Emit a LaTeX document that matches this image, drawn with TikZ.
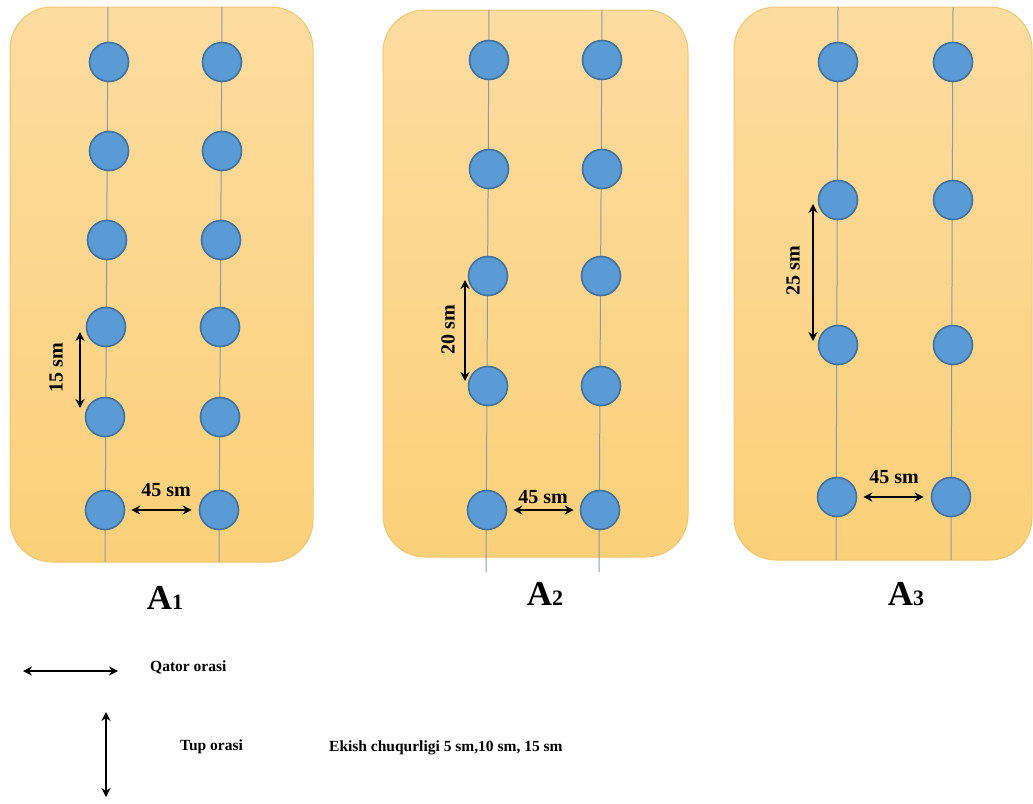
\documentclass[tikz,border=0pt]{standalone}
\usepackage{fontspec}
\setmainfont{Liberation Serif}
\usetikzlibrary{arrows.meta}
\definecolor{paneltop}{HTML}{FDDCA0}
\definecolor{panelbot}{HTML}{FBD079}
\definecolor{panelborder}{HTML}{F0C670}
\definecolor{plantfill}{HTML}{5B9BD5}
\definecolor{plantborder}{HTML}{41719C}
\definecolor{rowline}{HTML}{8A9BA6}
\tikzset{
  panel/.style={draw=panelborder, line width=1pt, rounded corners=42pt, top color=paneltop, bottom color=panelbot},
  plant/.style={circle, draw=plantborder, line width=1.6pt, fill=plantfill, minimum size=39pt, inner sep=0pt},
  rowln/.style={draw=rowline, line width=1pt},
  dim/.style={{Stealth[length=9pt,width=9pt]}-{Stealth[length=9pt,width=9pt]}, line width=2.8pt, black},
  dimlabel/.style={font=\fontsize{20}{22}\selectfont\bfseries, inner sep=0pt},
  legend/.style={font=\fontsize{15.5}{18}\selectfont\bfseries, inner sep=0pt, anchor=west},
  title/.style={font=\fontsize{35}{38}\selectfont\bfseries, inner sep=0pt, anchor=base},
}
\newcommand{\subdig}[1]{{\fontsize{22}{24}\selectfont #1}}
\begin{document}
\begin{tikzpicture}[x=1pt,y=-1pt]
\useasboundingbox (0,0) rectangle (1033,803);
% panels
\path[panel] (10,7) rectangle (313,562);
\path[panel] (383,10) rectangle (688,557);
\path[panel] (734,7) rectangle (1032,560);
% row lines
\coordinate (l1at) at (108,7);   \coordinate (l1ab) at (105,562);
\coordinate (l1bt) at (222,7);   \coordinate (l1bb) at (219,562);
\coordinate (l2at) at (489,10);  \coordinate (l2ab) at (486,572);
\coordinate (l2bt) at (602,10);  \coordinate (l2bb) at (599,572);
\coordinate (l3at) at (838,7);   \coordinate (l3ab) at (836,560);
\coordinate (l3bt) at (953,7);   \coordinate (l3bb) at (951,560);
\draw[rowln] (l1at) -- (l1ab);
\draw[rowln] (l1bt) -- (l1bb);
\draw[rowln] (l2at) -- (l2ab);
\draw[rowln] (l2bt) -- (l2bb);
\draw[rowln] (l3at) -- (l3ab);
\draw[rowln] (l3bt) -- (l3bb);
% plants panel 1
\node[plant] (p1a1) at (109,62) {};
\node[plant] (p1a2) at (109,151) {};
\node[plant] (p1a3) at (107,240) {};
\node[plant] (p1a4) at (106,327) {};
\node[plant] (p1a5) at (105,417) {};
\node[plant] (p1a6) at (105,510) {};
\node[plant] (p1b1) at (222,62) {};
\node[plant] (p1b2) at (222,151) {};
\node[plant] (p1b3) at (221,240) {};
\node[plant] (p1b4) at (220,327) {};
\node[plant] (p1b5) at (220,417) {};
\node[plant] (p1b6) at (219,510) {};
% plants panel 2
\node[plant] (p2a1) at (489,60) {};
\node[plant] (p2a2) at (489,169) {};
\node[plant] (p2a3) at (488,276) {};
\node[plant] (p2a4) at (488,386) {};
\node[plant] (p2a5) at (487,510) {};
\node[plant] (p2b1) at (602,60) {};
\node[plant] (p2b2) at (602,169) {};
\node[plant] (p2b3) at (601,276) {};
\node[plant] (p2b4) at (601,386) {};
\node[plant] (p2b5) at (600,510) {};
% plants panel 3
\node[plant] (p3a1) at (838,62) {};
\node[plant] (p3a2) at (838,200) {};
\node[plant] (p3a3) at (838,345) {};
\node[plant] (p3a4) at (837,497) {};
\node[plant] (p3b1) at (953,62) {};
\node[plant] (p3b2) at (953,200) {};
\node[plant] (p3b3) at (953,345) {};
\node[plant] (p3b4) at (951,497) {};
% dimension arrows panel 1
\coordinate (v1t) at (80,332); \coordinate (v1b) at (80,408);
\draw[dim] (v1t) -- (v1b);
\node[dimlabel, rotate=90] (t15) at (56,368) {15 sm};
\draw[dim] ([xshift=6pt]p1a6.east) -- ([xshift=-7pt]p1b6.west);
\node[dimlabel] (t45a) at (166,490) {45 sm};
% panel 2
\coordinate (v2t) at (465,280); \coordinate (v2b) at (465,381);
\draw[dim] (v2t) -- (v2b);
\node[dimlabel, rotate=90] (t20) at (448,330) {20 sm};
\draw[dim] ([xshift=6pt]p2a5.east) -- ([xshift=-6pt]p2b5.west);
\node[dimlabel] (t45b) at (543,497) {45 sm};
% panel 3
\coordinate (v3t) at (813,204); \coordinate (v3b) at (813,341);
\draw[dim] (v3t) -- (v3b);
\node[dimlabel, rotate=90] (t25) at (793,271) {25 sm};
\draw[dim] ([xshift=6pt]p3a4.east) -- ([xshift=-7pt]p3b4.west);
\node[dimlabel] (t45c) at (894,477) {45 sm};
% titles
\node[title] (A1) at (165,609) {A\subdig{1}};
\node[title] (A2) at (545,605) {A\subdig{2}};
\node[title] (A3) at (906,605) {A\subdig{3}};
% legend
\coordinate (hl) at (23,671); \coordinate (hr) at (118,671);
\draw[dim] (hl) -- (hr);
\node[legend] (qator) at (150,667) {Qator orasi};
\coordinate (vt) at (106,712); \coordinate (vb) at (106,797);
\draw[dim] (vt) -- (vb);
\node[legend] (tup) at (180,747) {Tup orasi};
\node[legend] (ekish) at (329,748) {Ekish chuqurligi 5 sm,10 sm, 15 sm};
\end{tikzpicture}
\end{document}
